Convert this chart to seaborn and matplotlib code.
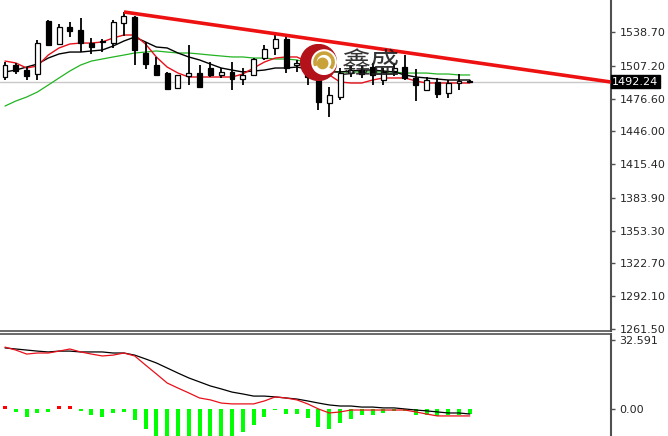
import numpy as np
import pandas as pd
import matplotlib
matplotlib.use("Agg")
import matplotlib.pyplot as plt
import seaborn as sns
from matplotlib.patches import Circle, Wedge

# candle OHLC
opens = [1496.7, 1507.9, 1503.2, 1499.5, 1549.0, 1527.5, 1543.4, 1540.6, 1528.4, 1529.4,
         1528.4, 1547.1, 1552.7, 1519.1, 1507.9, 1500.4, 1486.4, 1497.6, 1500.4, 1505.1,
         1498.6, 1501.4, 1494.8, 1498.6, 1514.4, 1523.8, 1532.2, 1507.9, 1503.2, 1496.7,
         1472.4, 1478.0, 1500.4, 1503.2, 1506.0, 1493.9, 1502.3, 1506.0, 1495.8, 1484.6,
         1492.0, 1481.8, 1491.1, 1492.8]
highs = [1510.7, 1509.8, 1506.0, 1531.2, 1549.9, 1546.2, 1548.0, 1551.8, 1533.1, 1532.0,
         1549.9, 1557.4, 1553.6, 1529.4, 1515.4, 1501.4, 1499.0, 1526.6, 1507.9, 1510.7,
         1505.1, 1510.7, 1505.1, 1514.4, 1526.6, 1535.9, 1534.0, 1512.6, 1510.7, 1497.6,
         1487.4, 1505.1, 1507.0, 1507.0, 1509.8, 1505.1, 1508.8, 1517.2, 1504.2, 1496.7,
         1495.8, 1493.9, 1499.5, 1493.5]
lows = [1493.9, 1499.5, 1493.9, 1493.9, 1526.0, 1527.0, 1534.0, 1520.0, 1518.2, 1520.0,
        1523.8, 1535.0, 1507.9, 1504.2, 1498.0, 1484.6, 1486.0, 1489.2, 1487.0, 1496.7,
        1495.8, 1484.6, 1489.2, 1497.6, 1512.6, 1517.2, 1500.4, 1501.4, 1489.2, 1465.9,
        1459.4, 1475.2, 1496.7, 1495.8, 1489.2, 1489.2, 1497.6, 1493.9, 1474.3, 1483.6,
        1477.0, 1477.0, 1484.6, 1491.6]
closes = [1507.9, 1502.3, 1497.6, 1528.4, 1526.6, 1543.4, 1539.6, 1528.4, 1524.7, 1530.3,
          1548.0, 1553.6, 1521.9, 1508.8, 1498.6, 1485.5, 1498.6, 1500.4, 1487.4, 1498.6,
          1501.4, 1494.8, 1498.6, 1513.5, 1522.9, 1532.2, 1505.1, 1509.8, 1496.7, 1473.4,
          1479.9, 1500.4, 1503.2, 1499.5, 1498.6, 1501.4, 1505.1, 1495.8, 1489.2, 1493.9,
          1480.8, 1491.1, 1493.0, 1492.24]

# moving averages
ma_fast = [1511.6, 1509.8, 1505.1, 1507.0, 1517.2, 1523.8, 1527.5, 1528.4, 1528.4, 1529.4,
           1533.1, 1535.9, 1535.9, 1527.5, 1515.4, 1506.0, 1500.4, 1496.7, 1496.7, 1496.7,
           1496.7, 1496.7, 1499.5, 1505.1, 1510.7, 1514.4, 1515.4, 1515.4, 1510.7, 1503.2,
           1498.6, 1492.0, 1491.1, 1491.1, 1493.9, 1495.8, 1495.8, 1495.8, 1493.0, 1491.1,
           1491.1, 1491.1, 1491.1, 1491.1]
ma_mid = [1501.4, 1503.2, 1506.0, 1508.8, 1514.4, 1518.2, 1520.0, 1520.0, 1521.0, 1521.9,
          1525.6, 1530.3, 1534.0, 1529.4, 1524.7, 1523.8, 1519.1, 1515.4, 1512.6, 1508.8,
          1505.1, 1503.2, 1501.4, 1502.3, 1503.2, 1505.1, 1505.1, 1506.0, 1504.2, 1502.3,
          1501.4, 1501.4, 1502.3, 1503.2, 1503.2, 1502.3, 1501.4, 1498.6, 1496.7, 1495.8,
          1494.8, 1493.9, 1493.9, 1493.9]
ma_slow = [1469.6, 1474.3, 1478.0, 1482.7, 1489.2, 1495.8, 1502.3, 1507.9, 1511.6, 1513.5,
           1515.4, 1517.2, 1519.1, 1520.0, 1521.0, 1520.0, 1519.1, 1519.1, 1518.2, 1517.2,
           1516.3, 1515.4, 1515.4, 1514.4, 1514.4, 1513.5, 1513.5, 1512.6, 1509.8, 1506.0,
           1502.3, 1501.4, 1501.4, 1501.4, 1501.4, 1501.4, 1501.4, 1500.4, 1500.4, 1500.4,
           1499.5, 1499.5, 1498.6, 1498.6]

# MACD panel
macd_hist = [1.4, -1.4, -3.8, -1.9, -1.4, 1.4, 1.4, -0.9, -2.8, -3.8,
             -1.9, -1.4, -5.2, -9.5, -15, -15, -15, -15, -15, -15,
             -15, -15, -10.9, -7.6, -3.8, -0.5, -2.4, -2.4, -4.3, -8.5,
             -9.5, -6.6, -4.7, -2.8, -2.8, -1.9, -0.9, -0.9, -2.8, -2.8,
             -3.3, -2.8, -2.8, -2.4]
macd_main = [29.3, 27.9, 26.0, 26.5, 26.5, 27.4, 28.4, 27.0, 26.0, 25.1,
             25.5, 26.5, 25.1, 20.8, 16.6, 12.3, 9.9, 7.6, 5.2, 4.3,
             2.8, 2.4, 2.4, 2.4, 3.8, 5.7, 5.2, 4.3, 2.4, 0.0,
             -1.9, -1.4, -0.5, -0.5, -0.5, -0.5, -0.5, -0.5, -1.4, -2.4,
             -3.3, -3.3, -3.3, -3.3]
macd_signal = [28.9, 28.4, 27.9, 27.4, 27.0, 27.4, 27.4, 27.0, 27.0, 27.0,
               26.5, 26.5, 25.5, 23.7, 21.8, 19.4, 17.0, 14.7, 12.8, 10.9,
               9.5, 8.0, 7.1, 6.1, 6.1, 5.7, 5.2, 4.7, 3.8, 2.8,
               1.9, 1.4, 1.4, 0.9, 0.9, 0.5, 0.5, 0.0, -0.5, -0.9,
               -1.4, -1.9, -1.9, -2.4]

price_ticks = [1538.70, 1507.20, 1476.60, 1446.00, 1415.40, 1383.90, 1353.30, 1322.70, 1292.10, 1261.50]
last_price = 1492.24
trend_x = [11, 56.06]
trend_y = [1557.4, 1492.0]

df = pd.DataFrame({"i": np.arange(len(opens)), "open": opens, "high": highs, "low": lows,
                   "close": closes, "ma_fast": ma_fast, "ma_mid": ma_mid, "ma_slow": ma_slow,
                   "hist": macd_hist, "macd": macd_main, "signal": macd_signal})

sns.set_style("white")
plt.rcParams['font.family'] = ['DejaVu Sans']

fig = plt.figure(figsize=(6.68, 4.36), dpi=100)
ax = fig.add_axes([0, 1 - 331 / 436, 611 / 668, 331 / 436])
ax2 = fig.add_axes([0, 0, 611 / 668, 1 - 334 / 436])

xlim = (-0.4625, 56.06)
axis_col = "#505050"

# --- price panel
ax.axhline(last_price, color="#c8c8c8", lw=1, zorder=1)
sns.lineplot(data=df, x="i", y="ma_slow", ax=ax, color="#22b422", lw=0.9, zorder=2)
sns.lineplot(data=df, x="i", y="ma_mid", ax=ax, color="black", lw=1.0, zorder=2)
sns.lineplot(data=df, x="i", y="ma_fast", ax=ax, color="#e8101a", lw=1.0, zorder=2)

ax.vlines(df["i"], df["low"], df["high"], color="black", lw=1.3, zorder=3)
up = df["close"] >= df["open"]
body_lo = np.minimum(df["open"], df["close"])
body_h = np.maximum(np.abs(df["close"] - df["open"]), 0.6)
ax.bar(df["i"][up], body_h[up], bottom=body_lo[up], width=0.46, color="white",
       edgecolor="black", lw=0.9, zorder=4)
ax.bar(df["i"][~up], body_h[~up], bottom=body_lo[~up], width=0.46, color="black",
       edgecolor="black", lw=0.9, zorder=4)

ax.plot(trend_x, trend_y, color="#ee1111", lw=2.6, zorder=5, solid_capstyle="butt")

ax.set_xlim(*xlim)
ax.set_ylim(1259.65, 1568.57)
ax.yaxis.tick_right()
ax.set_yticks(price_ticks)
ax.set_yticklabels([f"{v:.2f}" for v in price_ticks])
ax.tick_params(axis="y", right=True, length=3, width=1, color=axis_col, labelsize=8, pad=3)
ax.set_xticks([])
ax.set_xlabel("")
ax.set_ylabel("")
for s in ["left", "top"]:
    ax.spines[s].set_visible(False)
ax.spines["right"].set_color(axis_col)
ax.spines["right"].set_linewidth(1.5)
ax.spines["bottom"].set_color(axis_col)
ax.spines["bottom"].set_linewidth(1.2)

ax.text(1.002, last_price, f"{last_price:.2f}", transform=ax.get_yaxis_transform(),
        ha="left", va="center", fontsize=8, color="white", zorder=10, clip_on=False,
        bbox=dict(boxstyle="square,pad=0.15", fc="black", ec="black"))

# --- MACD panel
cols = ["#ff0000" if v > 0 else "#00ff00" for v in macd_hist]
ax2.bar(df["i"], df["hist"], width=0.37, color=cols, lw=0, zorder=2)
sns.lineplot(data=df, x="i", y="signal", ax=ax2, color="black", lw=0.9, zorder=3)
sns.lineplot(data=df, x="i", y="macd", ax=ax2, color="#e8101a", lw=0.9, zorder=3)
ax2.set_xlim(*xlim)
ax2.set_ylim(-12.8, 35.5)
ax2.yaxis.tick_right()
ax2.set_yticks([0, 32.591])
ax2.set_yticklabels(["0.00", "32.591"])
ax2.tick_params(axis="y", right=True, length=3, width=1, color=axis_col, labelsize=8, pad=3)
ax2.set_xticks([])
ax2.set_xlabel("")
ax2.set_ylabel("")
for s in ["left", "bottom"]:
    ax2.spines[s].set_visible(False)
ax2.spines["right"].set_color(axis_col)
ax2.spines["right"].set_linewidth(1.5)
ax2.spines["top"].set_color(axis_col)
ax2.spines["top"].set_linewidth(1.2)

# --- watermark logo
lax = fig.add_axes([300 / 668, 1 - 81 / 436, 37 / 668, 37 / 436])
lax.set_xlim(-1, 1)
lax.set_ylim(-1, 1)
lax.set_aspect("equal")
lax.axis("off")
lax.add_patch(Circle((0, 0), 0.97, color="#b3121a", zorder=1))
lax.add_patch(Circle((0.3, 0.02), 0.66, color="white", zorder=2))
lax.add_patch(Wedge((0.3, 0.02), 0.55, -40, 200, width=0.12, color="#c9a23a", zorder=3))
lax.add_patch(Circle((0.22, -0.05), 0.28, color="#c9a23a", zorder=4))
fig.text(342 / 668, 1 - 65 / 436, "鑫盛", fontsize=21, color="#1e1e1e", alpha=0.9,
         family=["Noto Sans CJK SC", "DejaVu Sans"], ha="left", va="center")

fig.savefig("out.png", dpi=100)
